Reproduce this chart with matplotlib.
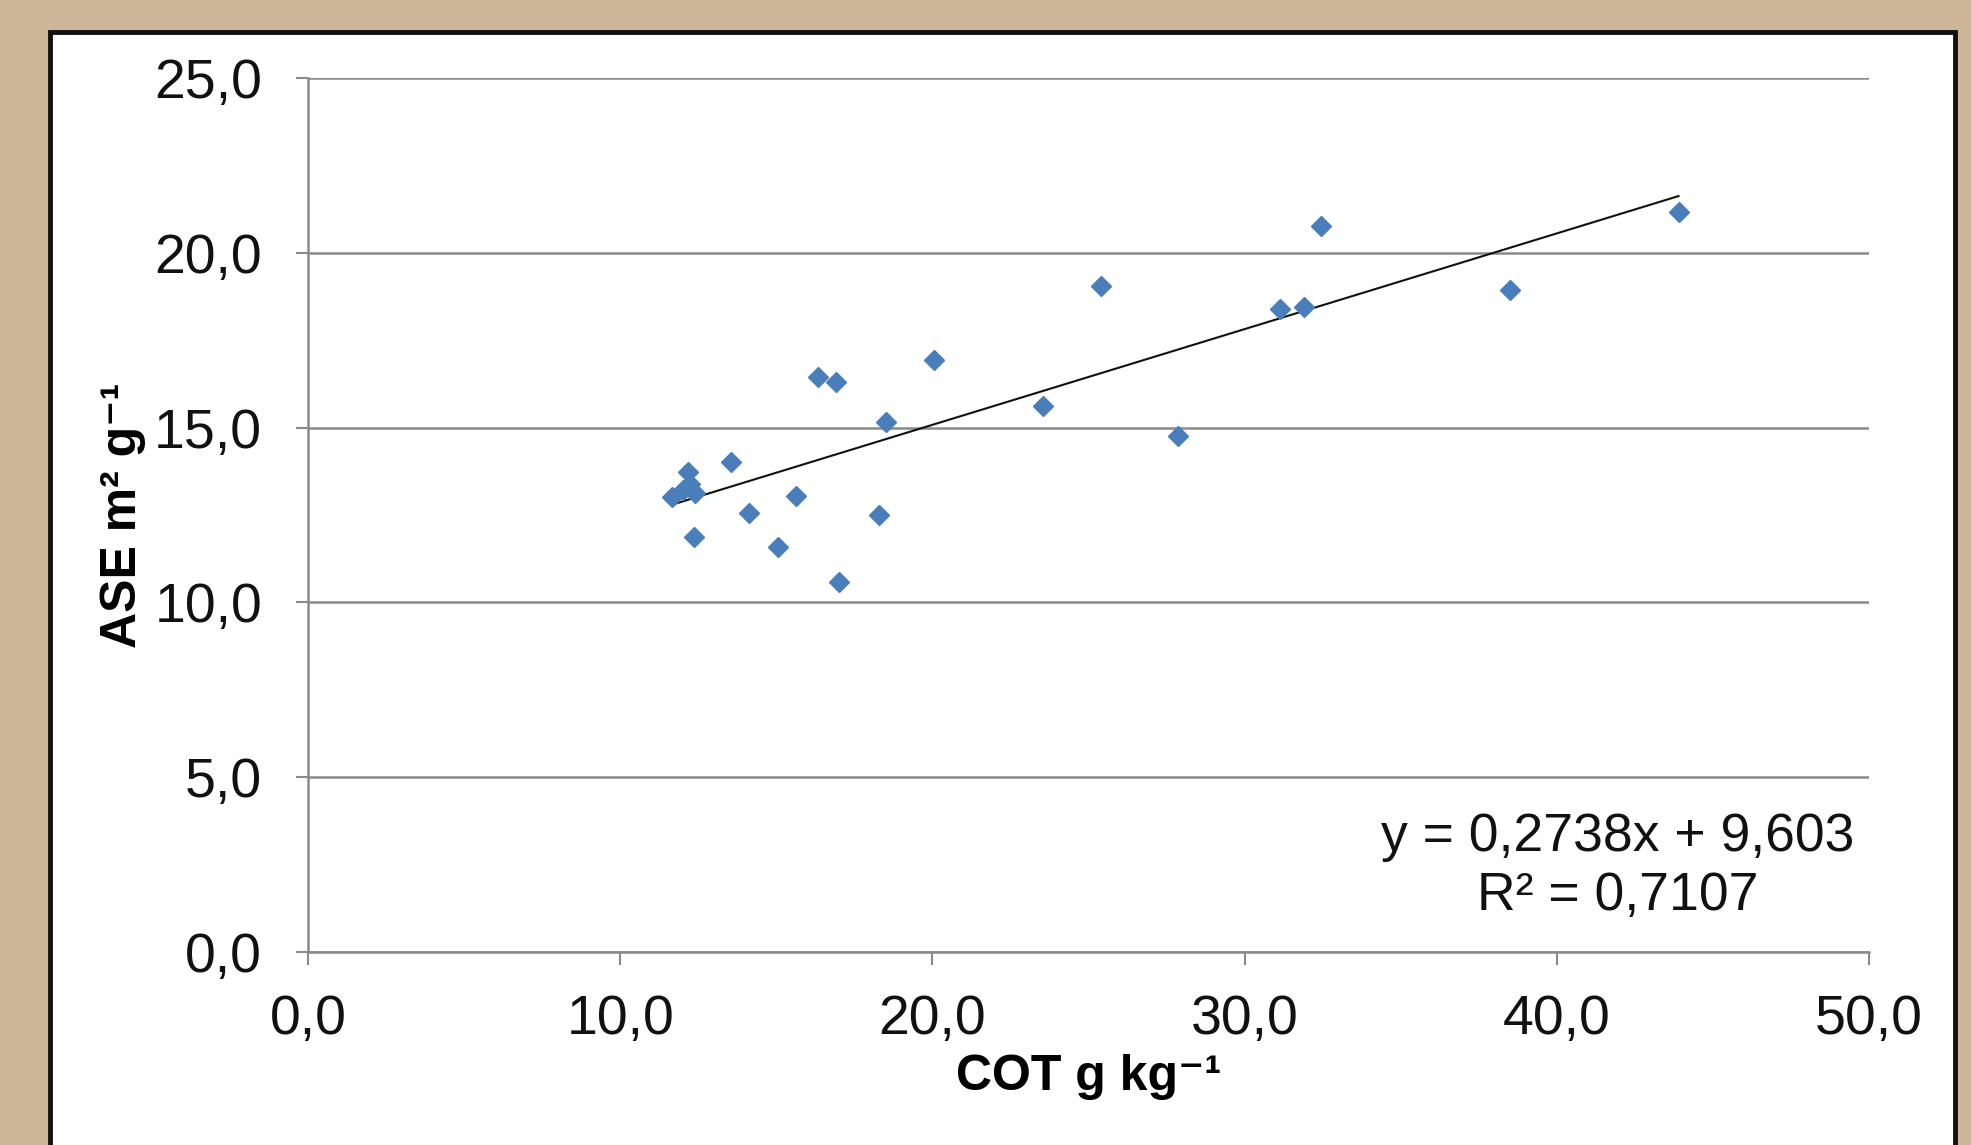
import matplotlib
matplotlib.use("Agg")
import matplotlib.pyplot as plt
from matplotlib.patches import Rectangle
import numpy as np

# COT (g/kg) vs ASE (m2/g) points
cot = [11.65, 12.01, 12.17, 12.40, 12.25, 12.36, 13.54, 14.13, 15.05, 15.63,
       16.34, 16.91, 17.01, 18.29, 18.51, 20.05, 23.55, 25.40, 27.86, 31.13,
       31.90, 32.45, 38.50, 43.90]
ase = [13.02, 13.21, 13.73, 13.12, 13.40, 11.86, 14.01, 12.55, 11.58, 13.04,
       16.45, 16.31, 10.58, 12.50, 15.16, 16.93, 15.61, 19.06, 14.75, 18.38,
       18.45, 20.77, 18.93, 21.17]

# linear trend from the chart's equation
slope = 0.2738
intercept = 9.603
r2 = 0.7107

x_ticks = [0, 10, 20, 30, 40, 50]
y_ticks = [0, 5, 10, 15, 20, 25]

plt.rcParams['font.family'] = ['Liberation Sans', 'DejaVu Sans']

fig = plt.figure(figsize=(19.71, 11.45), dpi=100)
fig.patch.set_facecolor('#cdb598')

# white chart panel with dark frame
panel = Rectangle((50 / 1971, -0.05), (1955 - 50) / 1971, (1145 - 32) / 1145 + 0.05,
                  transform=fig.transFigure, facecolor='white',
                  edgecolor='#111111', linewidth=3.5, zorder=-10)
fig.patches.append(panel)

ax = fig.add_axes([308 / 1971, 193 / 1145, (1869 - 308) / 1971, (1067 - 193) / 1145])
ax.set_zorder(5)
ax.set_facecolor('white')

ax.plot(cot, ase, linestyle='none', marker='D', markersize=10.5,
        color='#4a7ebb', zorder=3)

xs = np.array([min(cot), max(cot)])
ax.plot(xs, slope * xs + intercept, color='#111111', linewidth=1.5, zorder=2)

ax.set_xlim(0, 50)
ax.set_ylim(0, 25)
ax.set_xticks(x_ticks)
ax.set_yticks(y_ticks)
ax.set_xticklabels([f'{v:.1f}'.replace('.', ',') for v in x_ticks])
ax.set_yticklabels([f'{v:.1f}'.replace('.', ',') for v in y_ticks])

ax.grid(True, axis='y', color='#8a8a8a', linewidth=1.8)
ax.set_axisbelow(True)
for side in ['top', 'right']:
    ax.spines[side].set_visible(False)
for side in ['left', 'bottom']:
    ax.spines[side].set_color('#8a8a8a')
    ax.spines[side].set_linewidth(1.8)

ax.tick_params(axis='both', direction='out', length=9, width=1.5,
               color='#8a8a8a', labelsize=40, labelcolor='#111111')
ax.tick_params(axis='x', pad=21)
ax.tick_params(axis='y', pad=24)

ax.set_xlabel('COT g kg\u207b\u00b9', fontsize=36, fontweight='bold', labelpad=6)
ax.set_ylabel('ASE m\u00b2 g\u207b\u00b9', fontsize=36, fontweight='bold', labelpad=6)

eq = f'y = {slope:.4f}x + {intercept:.3f}'.replace('.', ',') + '\n' + \
     f'R\u00b2 = {r2:.4f}'.replace('.', ',')
ax.text(41.96, 2.45, eq, ha='center', va='center', multialignment='center',
        fontsize=38.5, color='#111111', linespacing=1.22)

fig.savefig('out.png', dpi=100, facecolor=fig.get_facecolor())
